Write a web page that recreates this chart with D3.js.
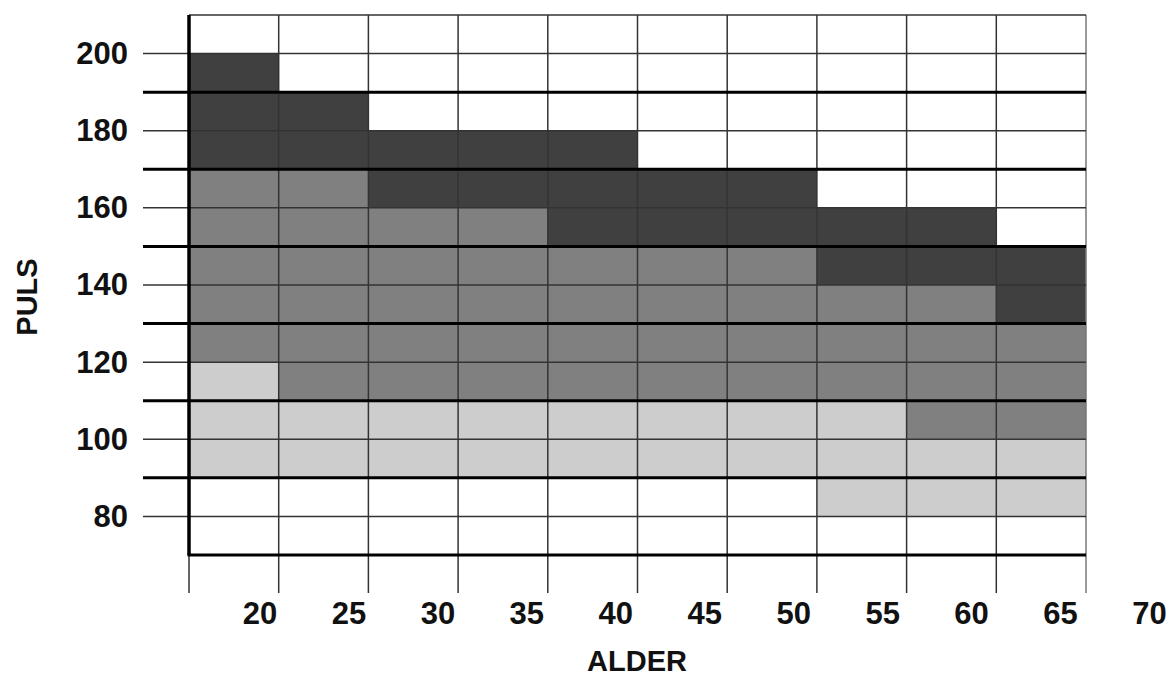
<!DOCTYPE html>
<html lang="no">
<head>
    <meta charset="UTF-8">
    <script src="https://d3js.org/d3.v7.min.js"></script>
    <title>Puls og alder</title>
    <style>
        body { margin: 0; background: #fff; }
        text { font-family: "Liberation Sans", Arial, sans-serif; font-weight: bold; fill: #111; }
    </style>
</head>
<body>
    <script>
        // alder: start of each 5-year column
        const ages = [15, 20, 25, 30, 35, 40, 45, 50, 55, 60];
        // pulse band edges for each column (top of dark, dark->mid, mid->light, bottom of light)
        const darkTop     = [200, 190, 180, 180, 180, 170, 170, 160, 160, 150];
        const midTop      = [170, 170, 160, 160, 150, 150, 150, 140, 140, 130];
        const lightTop    = [120, 110, 110, 110, 110, 110, 110, 110, 100, 100];
        const lightBottom = [90, 90, 90, 90, 90, 90, 90, 80, 80, 80];

        const xTicks = [20, 25, 30, 35, 40, 45, 50, 55, 60, 65, 70];
        const yTicks = [80, 100, 120, 140, 160, 180, 200];
        const gridLines = [70, 80, 90, 100, 110, 120, 130, 140, 150, 160, 170, 180, 190, 200, 210];
        const thickLines = [70, 90, 110, 130, 150, 170, 190];

        const width = 1170, height = 678;
        const colors = { dark: '#404040', mid: '#808080', light: '#cdcdcd' };

        const x = d3.scaleLinear().domain([15, 65]).range([189, 1086]);
        const y = d3.scaleLinear().domain([70, 210]).range([555, 15]);
        // the age labels sit left of their lines, a bit tighter than the grid
        const xLabel = d3.scaleLinear().domain([20, 70]).range([259.5, 1149]);

        const svg = d3.select('body').append('svg')
            .attr('width', width)
            .attr('height', height);

        // build cells from the band arrays
        let cells = [];
        ages.forEach((a, i) => {
            cells.push({ a, top: darkTop[i], bottom: midTop[i], c: colors.dark });
            cells.push({ a, top: midTop[i], bottom: lightTop[i], c: colors.mid });
            cells.push({ a, top: lightTop[i], bottom: lightBottom[i], c: colors.light });
        });

        svg.append('g').selectAll('rect')
            .data(cells)
            .enter()
            .append('rect')
            .attr('x', d => x(d.a))
            .attr('width', d => x(d.a + 5) - x(d.a))
            .attr('y', d => y(d.top))
            .attr('height', d => y(d.bottom) - y(d.top))
            .attr('fill', d => d.c);

        // vertical grid lines, running down past the frame
        svg.append('g').selectAll('line')
            .data(d3.range(15, 70, 5))
            .enter()
            .append('line')
            .attr('x1', d => x(d)).attr('x2', d => x(d))
            .attr('y1', y(210)).attr('y2', 593)
            .attr('stroke', d => d === 65 ? '#777' : '#333')
            .attr('stroke-width', 1.5);

        // thin horizontal lines
        svg.append('g').selectAll('line')
            .data(gridLines.filter(d => thickLines.indexOf(d) < 0))
            .enter()
            .append('line')
            .attr('x1', d => d === 210 ? x(15) : 143)
            .attr('x2', x(65))
            .attr('y1', d => y(d)).attr('y2', d => y(d))
            .attr('stroke', '#333')
            .attr('stroke-width', 1.5);

        // thick horizontal lines
        svg.append('g').selectAll('line')
            .data(thickLines)
            .enter()
            .append('line')
            .attr('x1', d => d === 70 ? x(15) - 1.5 : 143)
            .attr('x2', x(65))
            .attr('y1', d => y(d)).attr('y2', d => y(d))
            .attr('stroke', '#000')
            .attr('stroke-width', 3);

        // left frame line
        svg.append('line')
            .attr('x1', x(15)).attr('x2', x(15))
            .attr('y1', y(210)).attr('y2', y(70))
            .attr('stroke', '#000')
            .attr('stroke-width', 3.5);

        // y axis labels
        const yAxis = d3.axisLeft(y).tickValues(yTicks).tickSize(0).tickPadding(0);
        const gy = svg.append('g')
            .attr('transform', 'translate(128,0)')
            .call(yAxis);
        gy.select('.domain').remove();
        gy.selectAll('text')
            .attr('font-size', 31)
            .attr('font-family', '"Liberation Sans", Arial, sans-serif')
            .attr('font-weight', 'bold')
            .attr('fill', '#111');

        // x axis labels
        const xAxis = d3.axisBottom(xLabel).tickValues(xTicks).tickSize(0).tickPadding(0);
        const gx = svg.append('g')
            .call(xAxis);
        gx.select('.domain').remove();
        gx.selectAll('text')
            .attr('y', 624)
            .attr('dy', 0)
            .attr('font-size', 31)
            .attr('font-family', '"Liberation Sans", Arial, sans-serif')
            .attr('font-weight', 'bold')
            .attr('fill', '#111');

        // axis titles
        svg.append('text')
            .attr('x', 637).attr('y', 671)
            .attr('text-anchor', 'middle')
            .attr('font-size', 29)
            .text('ALDER');

        svg.append('text')
            .attr('transform', 'translate(37,297) rotate(-90)')
            .attr('text-anchor', 'middle')
            .attr('font-size', 29)
            .text('PULS');
    </script>
</body>
</html>
